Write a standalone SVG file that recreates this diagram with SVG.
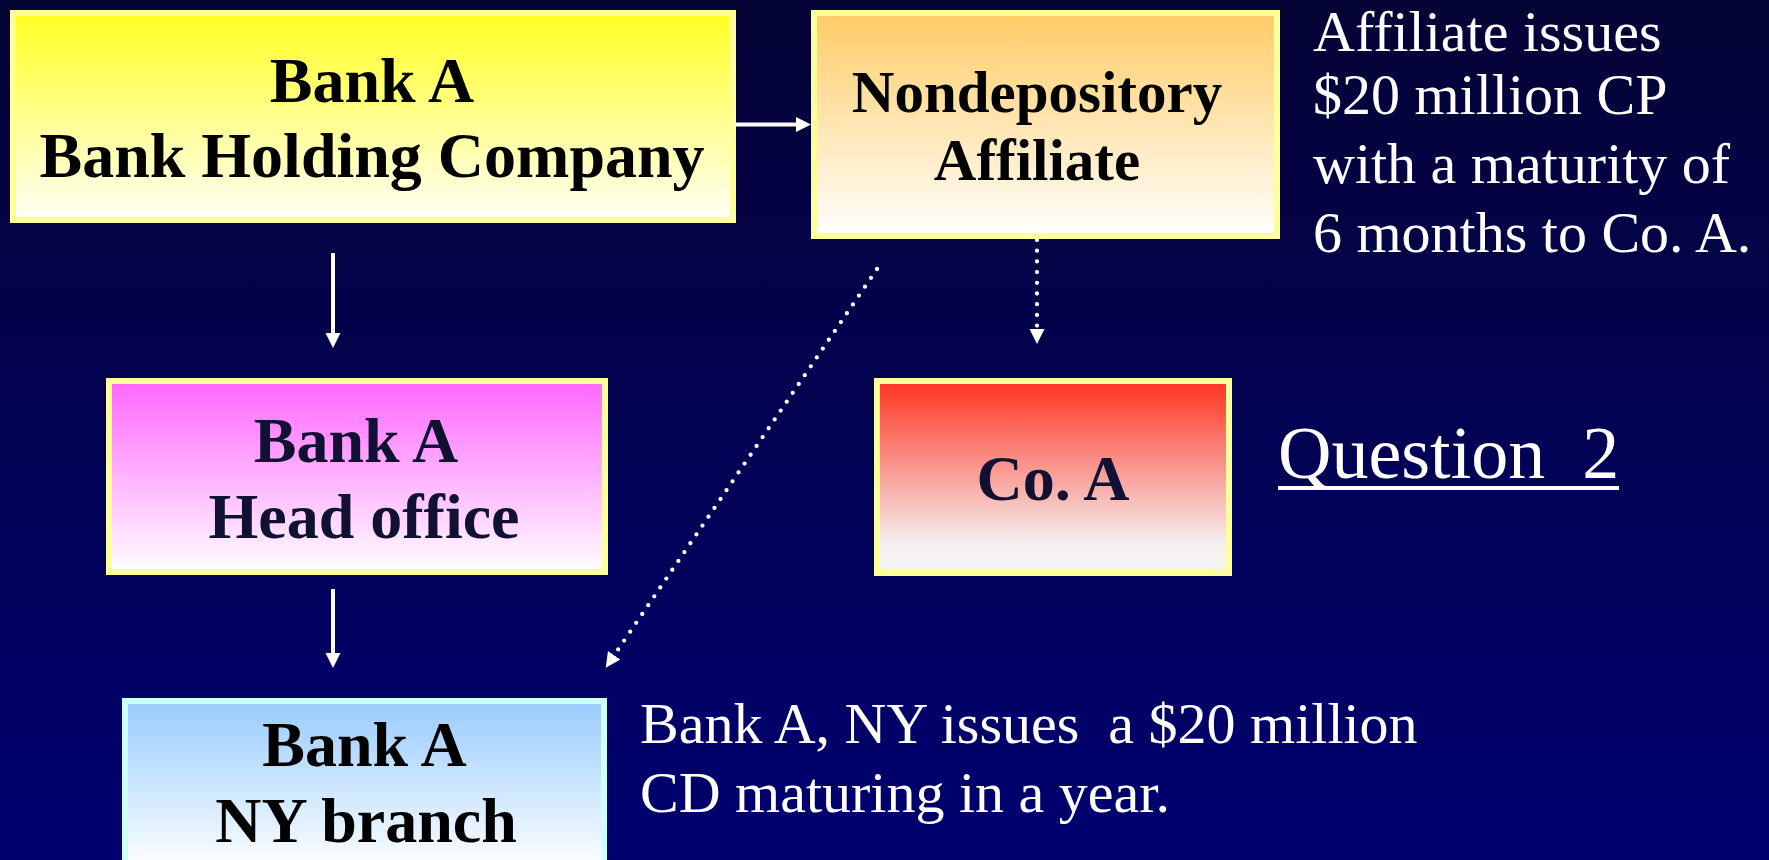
<svg xmlns="http://www.w3.org/2000/svg" width="1769" height="860" viewBox="0 0 1769 860">
  <style>
    .lbl { font-family: "Liberation Serif", "Times New Roman", serif; font-weight: bold; font-size: 64px; text-anchor: middle; }
    .note { font-family: "Liberation Serif", "Times New Roman", serif; font-size: 58px; fill: #FFFFFF; }
    .box { stroke-width: 6; }
    .yb { stroke: #FFFF99; }
    .conn { stroke: #FFFFFF; stroke-width: 4; fill: none; }
    .dot { stroke: #FFFFFF; stroke-width: 4.3; fill: none; stroke-dasharray: 0 10.7; stroke-linecap: round; }
  </style>
  <defs>
    <linearGradient id="bg" x1="0" y1="0" x2="0" y2="1">
      <stop offset="0" stop-color="#040436"/>
      <stop offset="1" stop-color="#000070"/>
    </linearGradient>
    <linearGradient id="gYellow" x1="0" y1="0" x2="0" y2="1">
      <stop offset="0" stop-color="#FFFF22"/>
      <stop offset="1" stop-color="#FFFFF8"/>
    </linearGradient>
    <linearGradient id="gOrange" x1="0" y1="0" x2="0" y2="1">
      <stop offset="0" stop-color="#FFCC66"/>
      <stop offset="1" stop-color="#FFFFFF"/>
    </linearGradient>
    <linearGradient id="gMagenta" x1="0" y1="0" x2="0" y2="1">
      <stop offset="0" stop-color="#FF66FF"/>
      <stop offset="1" stop-color="#FFFFFF"/>
    </linearGradient>
    <linearGradient id="gRed" x1="0" y1="0" x2="0" y2="1">
      <stop offset="0" stop-color="#FF3322"/>
      <stop offset="0.85" stop-color="#F4F0F0"/>
      <stop offset="1" stop-color="#F4F4F4"/>
    </linearGradient>
    <linearGradient id="gBlue" x1="0" y1="0" x2="0" y2="1">
      <stop offset="0" stop-color="#99CCFF"/>
      <stop offset="0.85" stop-color="#FFFFFF"/>
      <stop offset="1" stop-color="#FFFFFF"/>
    </linearGradient>
    <marker id="arrow" markerUnits="userSpaceOnUse" markerWidth="16" markerHeight="16" refX="1" refY="7.5" orient="auto">
      <path d="M0,0 L15,7.5 L0,15 Z" fill="#FFFFFF"/>
    </marker>
  </defs>

  <rect x="0" y="0" width="1769" height="860" fill="url(#bg)"/>

  <g id="connectors">
    <line class="conn" x1="736" y1="124.5" x2="797" y2="124.5" marker-end="url(#arrow)"/>
    <line class="conn" x1="333" y1="253" x2="333" y2="334" marker-end="url(#arrow)"/>
    <line class="conn" x1="333" y1="589" x2="333" y2="654" marker-end="url(#arrow)"/>
    <line class="dot" x1="1037" y1="240" x2="1037" y2="330" marker-end="url(#arrow)"/>
    <line class="dot" x1="877" y1="269" x2="613.6" y2="656.1" marker-end="url(#arrow)"/>
  </g>

  <g id="bhc">
    <rect class="box yb" x="13" y="13" width="720" height="207" fill="url(#gYellow)"/>
    <text class="lbl" x="372" y="102" fill="#000000">Bank A</text>
    <text class="lbl" x="372" y="177" fill="#000000">Bank Holding Company</text>
  </g>

  <g id="affiliate">
    <rect class="box yb" x="814" y="13" width="463" height="223" fill="url(#gOrange)"/>
    <text class="lbl" x="1037" y="112" fill="#000000" style="font-size:59px">Nondepository</text>
    <text class="lbl" x="1037" y="180" fill="#000000" style="font-size:59px">Affiliate</text>
  </g>

  <g id="headoffice">
    <rect class="box yb" x="109" y="381" width="496" height="191" fill="url(#gMagenta)"/>
    <text class="lbl" x="356" y="462" fill="#111133">Bank A</text>
    <text class="lbl" x="364" y="538" fill="#111133">Head office</text>
  </g>

  <g id="coa">
    <rect class="box yb" x="877" y="381" width="352" height="192" fill="url(#gRed)"/>
    <text class="lbl" x="1053" y="500" fill="#111133">Co. A</text>
  </g>

  <g id="nybranch">
    <rect class="box" x="125" y="701" width="479" height="200" fill="url(#gBlue)" stroke="#CCFFFF"/>
    <text class="lbl" x="364.5" y="766" fill="#000000">Bank A</text>
    <text class="lbl" x="366" y="842" fill="#000000">NY branch</text>
  </g>

  <g id="note-affiliate">
    <text class="note" x="1313" y="51">Affiliate issues</text>
    <text class="note" x="1313" y="114">$20 million CP</text>
    <text class="note" x="1313" y="183">with a maturity of</text>
    <text class="note" x="1313" y="252">6 months to Co. A.</text>
  </g>

  <g id="question">
    <text x="1278" y="478" xml:space="preserve" style="font-family:'Liberation Serif','Times New Roman',serif;font-size:74px;fill:#FFFFFF">Question  2</text>
    <rect x="1278" y="486" width="341" height="4" fill="#FFFFFF"/>
  </g>

  <g id="note-ny">
    <text class="note" x="640" y="743" xml:space="preserve">Bank A, NY issues  a $20 million</text>
    <text class="note" x="640" y="812">CD maturing in a year.</text>
  </g>
</svg>
